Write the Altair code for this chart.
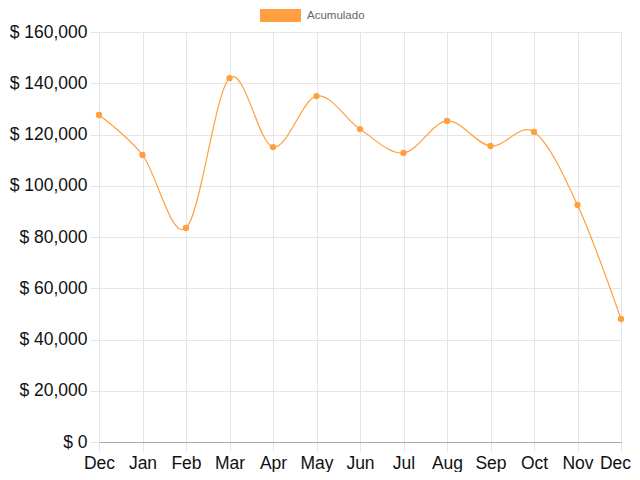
import altair as alt
import pandas as pd

months = ["Dec", "Jan", "Feb", "Mar", "Apr", "May", "Jun", "Jul", "Aug", "Sep", "Oct", "Nov", "Dec"]
values = [127600, 112000, 83500, 142000, 115100, 135000, 122100, 112800, 125300, 115500, 121000, 92500, 48000]
series = "Acumulado"
orange = "#FF9F40"

df = pd.DataFrame({"idx": list(range(len(months))), "month": months, "value": values, "series": series})

label_map = "{" + ",".join(f"{i}:'{m}'" for i, m in enumerate(months)) + "}"

x = alt.X("idx:Q", scale=alt.Scale(domain=[0, 12], nice=False, zero=False),
          axis=alt.Axis(values=list(range(13)), labelExpr=f"{label_map}[datum.value]",
                        title=None, tickSize=9, labelPadding=3, labelFontSize=17.5,
                        labelFont="Liberation Sans", labelColor="#111",
                        labelOffset={"condition": {"test": "datum.value == 12", "value": -6}, "value": 0},
                        gridColor="#e5e5e5", tickColor="#e5e5e5", domainColor="#aaaaaa",
                        labelFlush=False, labelOverlap=False))
y = alt.Y("value:Q", scale=alt.Scale(domain=[0, 160000], nice=False),
          axis=alt.Axis(values=list(range(0, 160001, 20000)),
                        labelExpr="'$ ' + format(datum.value, ',')",
                        title=None, tickSize=9, labelPadding=3, labelFontSize=17.5,
                        labelFont="Liberation Sans", labelColor="#111",
                        gridColor="#e5e5e5", tickColor="#e5e5e5", domainColor="#e5e5e5"))

color = alt.Color("series:N", scale=alt.Scale(domain=[series], range=[orange]),
                  legend=alt.Legend(title=None, orient="none", legendX=161, legendY=-37,
                                    symbolType="M-1,-0.3H1V0.3H-1Z", symbolSize=1600,
                                    symbolFillColor=orange, symbolStrokeColor=orange,
                                    symbolStrokeWidth=1, symbolOpacity=1,
                                    labelFont="Liberation Sans", labelFontSize=11.5,
                                    labelColor="#666", padding=0, labelOffset=6))

line = alt.Chart(df).mark_line(interpolate="cardinal", strokeWidth=1.2).encode(x=x, y=y, color=color)
points = alt.Chart(df).mark_circle(size=40, opacity=1).encode(x=x, y=y, color=color)

chart = (line + points).properties(
    width=522, height=410,
    autosize=alt.AutoSizeParams(type="none"),
    padding={"left": 91, "top": 24, "right": 11, "bottom": 30},
).configure_view(stroke=None).configure_axis(domainWidth=1)

chart.save("out.html", embed_options={"renderer": "svg", "actions": False})
